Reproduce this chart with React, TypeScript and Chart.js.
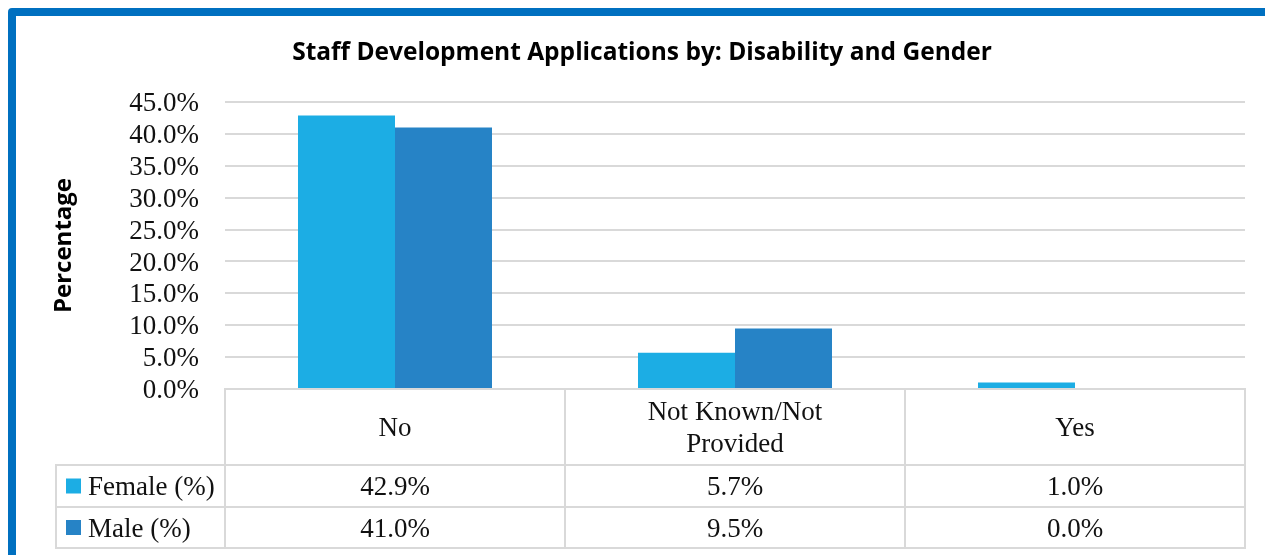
import React, { useEffect, useRef } from 'react';
import { Chart, registerables } from 'chart.js';

Chart.register(...registerables);

const chartTitle = 'Staff Development Applications by: Disability and Gender';
const yAxisTitle = 'Percentage';
const categories = ['No', 'Not Known/Not Provided', 'Yes'];
const seriesNames = ['Female (%)', 'Male (%)'];
const femaleValues = [42.9, 5.7, 1.0];
const maleValues = [41.0, 9.5, 0.0];
const seriesColors = ['#1CADE4', '#2683C6'];
const yMin = 0;
const yMax = 45;
const yStep = 5;

const SERIF = '"Liberation Serif", "Times New Roman", serif';
const SANS = '"Open Sans", "Noto Sans", sans-serif';
const GRID = '#D9D9D9';

function wrapText(ctx: CanvasRenderingContext2D, text: string, maxWidth: number): string[] {
  const words = text.split(' ');
  const lines: string[] = [];
  let cur = '';
  for (const w of words) {
    const test = cur ? cur + ' ' + w : w;
    if (cur && ctx.measureText(test).width > maxWidth) {
      lines.push(cur);
      cur = w;
    } else {
      cur = test;
    }
  }
  if (cur) lines.push(cur);
  return lines;
}

const dataTablePlugin = {
  id: 'dataTable',
  afterDraw(chart: any) {
    const { ctx, chartArea } = chart;
    const xs = chart.scales.x;
    const n = categories.length;
    const colW = (chartArea.right - chartArea.left) / n;
    const top = chartArea.bottom;
    const headerH = 76;
    const rowH = [42, 41];
    const legendLeft = chartArea.left - 169;
    const rowTops = [top + headerH, top + headerH + rowH[0]];
    const bottom = top + headerH + rowH[0] + rowH[1];
    const textShift = 2;

    ctx.save();
    ctx.strokeStyle = GRID;
    ctx.lineWidth = 2;
    const line = (x1: number, y1: number, x2: number, y2: number) => {
      ctx.beginPath();
      ctx.moveTo(x1, y1);
      ctx.lineTo(x2, y2);
      ctx.stroke();
    };
    line(chartArea.left - 1, top, chartArea.right + 1, top);
    [rowTops[0], rowTops[1], bottom].forEach((y) => line(legendLeft - 1, y, chartArea.right + 1, y));
    for (let i = 0; i <= n; i++) {
      const x = chartArea.left + i * colW;
      line(x, top, x, bottom);
    }
    line(legendLeft, rowTops[0], legendLeft, bottom);

    ctx.font = '27px ' + SERIF;
    ctx.fillStyle = '#111111';
    ctx.textAlign = 'center';
    ctx.textBaseline = 'middle';
    const lh = 32;
    categories.forEach((c, i) => {
      const cx = xs.getPixelForValue(i);
      const lines = wrapText(ctx, c, 240);
      const start = top + headerH / 2 - ((lines.length - 1) * lh) / 2 + textShift;
      lines.forEach((l, j) => ctx.fillText(l, cx, start + j * lh));
    });

    chart.data.datasets.forEach((ds: any, r: number) => {
      const cy = rowTops[r] + rowH[r] / 2;
      ctx.fillStyle = '#111111';
      ctx.textAlign = 'center';
      ds.data.forEach((v: number, i: number) => {
        ctx.fillText(v.toFixed(1) + '%', xs.getPixelForValue(i), cy + textShift);
      });
      ctx.fillStyle = ds.backgroundColor;
      ctx.fillRect(legendLeft + 10, cy - 7.5, 15, 15);
      ctx.fillStyle = '#111111';
      ctx.textAlign = 'left';
      ctx.fillText(ds.label, legendLeft + 32, cy + textShift);
    });
    ctx.restore();
  },
};

export default function App() {
  const canvasRef = useRef<HTMLCanvasElement | null>(null);

  useEffect(() => {
    if (!canvasRef.current) return;
    const chart = new Chart(canvasRef.current, {
      type: 'bar',
      data: {
        labels: categories,
        datasets: [
          {
            label: seriesNames[0],
            data: femaleValues,
            backgroundColor: seriesColors[0],
            borderWidth: 0,
            barPercentage: 1,
            categoryPercentage: 0.5706,
          },
          {
            label: seriesNames[1],
            data: maleValues,
            backgroundColor: seriesColors[1],
            borderWidth: 0,
            barPercentage: 1,
            categoryPercentage: 0.5706,
          },
        ],
      },
      options: {
        responsive: false,
        animation: false,
        devicePixelRatio: 1,
        layout: { padding: { left: 23, right: 20, top: 0, bottom: 166 } },
        plugins: {
          legend: { display: false },
          tooltip: { enabled: false },
          title: {
            display: true,
            text: chartTitle,
            color: '#000000',
            font: { family: SANS, size: 24.5, weight: 'bold', lineHeight: 1.2 },
            padding: { top: 22.3, bottom: 34.3 },
          },
        },
        scales: {
          x: {
            display: false,
          },
          y: {
            min: yMin,
            max: yMax,
            afterFit: (scale: any) => {
              scale.width = 186;
            },
            ticks: {
              stepSize: yStep,
              autoSkip: false,
              padding: 26,
              labelOffset: 2,
              color: '#111111',
              font: { family: SERIF, size: 27 },
              callback: (v: any) => Number(v).toFixed(1) + '%',
            },
            grid: { color: GRID, lineWidth: 2, drawTicks: false },
            border: { display: false },
            title: {
              display: true,
              text: yAxisTitle,
              color: '#000000',
              font: { family: SANS, size: 24, weight: 'bold', lineHeight: 1.2 },
              padding: { top: 10.6, bottom: 0 },
            },
          },
        },
      },
      plugins: [dataTablePlugin],
    });
    return () => chart.destroy();
  }, []);

  return (
    <div
      style={{
        position: 'fixed',
        left: 8,
        top: 8,
        width: 1257,
        height: 547,
        overflow: 'hidden',
        background: '#ffffff',
      }}
    >
      <div
        style={{
          position: 'absolute',
          left: 0,
          top: 0,
          width: 1400,
          height: 700,
          border: '8px solid #0070C0',
          boxSizing: 'border-box',
          borderRadius: 4,
        }}
      />
      <canvas
        ref={canvasRef}
        width={1249}
        height={539}
        style={{ position: 'absolute', left: 8, top: 8, width: 1249, height: 539 }}
      />
    </div>
  );
}
